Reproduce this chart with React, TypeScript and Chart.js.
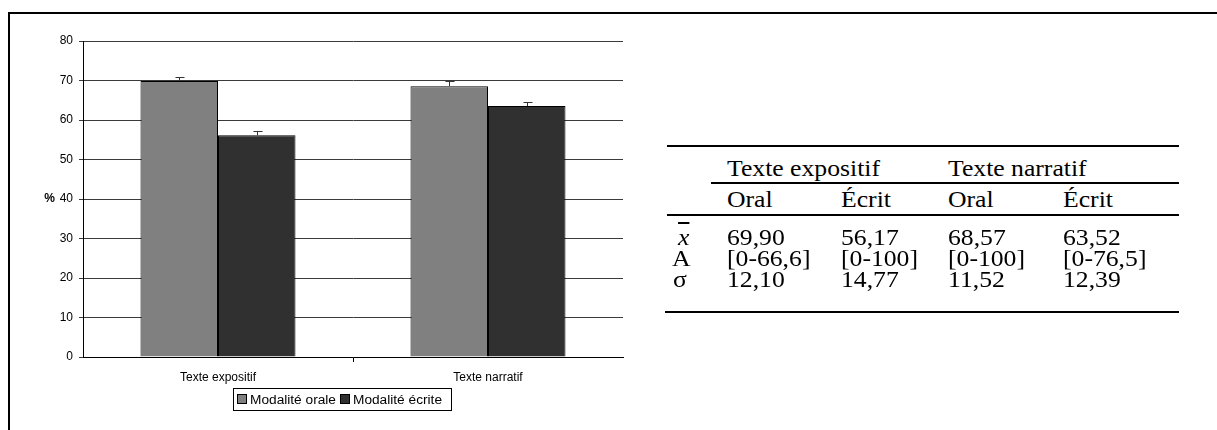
import React, { useEffect, useRef } from "react";
import { Chart, registerables } from "chart.js";

Chart.register(...registerables);

const categories = ["Texte expositif", "Texte narratif"];
const seriesNames = ["Modalité orale", "Modalité écrite"];
const oralValues = [69.9, 68.57];
const ecritValues = [56.17, 63.52];
const oralErrors = [1.1, 1.3];
const ecritErrors = [1.1, 1.0];
const yMin = 0;
const yMax = 80;
const yStep = 10;
const axisTitle = "%";
const axisTitleAtValue = 40;

const tableGroups = ["Texte expositif", "Texte narratif"];
const tableSubHeaders = ["Oral", "Écrit", "Oral", "Écrit"];
const rowLabels = ["x", "A", "σ"];
const meanRow = ["69,90", "56,17", "68,57", "63,52"];
const rangeRow = ["[0-66,6]", "[0-100]", "[0-100]", "[0-76,5]"];
const sigmaRow = ["12,10", "14,77", "11,52", "12,39"];

const oralColor = "#808080";
const ecritColor = "#303030";
const sansFont = "'Liberation Sans', Arial, sans-serif";
const serifFont = "'Liberation Serif', 'Times New Roman', serif";

const errorBarPlugin = {
  id: "errorBars",
  afterDatasetsDraw(chart: any) {
    const ctx = chart.ctx;
    const y = chart.scales.y;
    chart.data.datasets.forEach((ds: any, di: number) => {
      const meta = chart.getDatasetMeta(di);
      meta.data.forEach((bar: any, i: number) => {
        const v = ds.data[i];
        const e = ds.errors[i];
        const top = Math.round(y.getPixelForValue(v + e)) + 0.5;
        const x = Math.round(bar.x) + 0.5;
        ctx.save();
        ctx.strokeStyle = "#333";
        ctx.lineWidth = 1;
        ctx.beginPath();
        ctx.moveTo(x, bar.y);
        ctx.lineTo(x, top);
        ctx.moveTo(x - 4, top);
        ctx.lineTo(x + 5, top);
        ctx.stroke();
        ctx.restore();
      });
    });
  },
};

const percentPlugin = {
  id: "percentLabel",
  afterDraw(chart: any) {
    const ctx = chart.ctx;
    const y = chart.scales.y;
    ctx.save();
    ctx.font = `bold 12px ${sansFont}`;
    ctx.fillStyle = "#000";
    ctx.textAlign = "right";
    ctx.textBaseline = "middle";
    ctx.fillText(axisTitle, 55, y.getPixelForValue(axisTitleAtValue));
    ctx.restore();
  },
};

function BarChart() {
  const ref = useRef<HTMLCanvasElement | null>(null);
  useEffect(() => {
    if (!ref.current) return;
    const chart = new Chart(ref.current, {
      type: "bar",
      data: {
        labels: categories,
        datasets: [
          {
            label: seriesNames[0],
            data: oralValues,
            errors: oralErrors,
            backgroundColor: oralColor,
            borderColor: "#000",
            borderWidth: 1,
            categoryPercentage: 0.574,
            barPercentage: 1,
          } as any,
          {
            label: seriesNames[1],
            data: ecritValues,
            errors: ecritErrors,
            backgroundColor: ecritColor,
            borderColor: "#000",
            borderWidth: 1,
            categoryPercentage: 0.574,
            barPercentage: 1,
          } as any,
        ],
      },
      options: {
        responsive: false,
        animation: false,
        layout: { padding: { left: 0, top: 41, right: 57, bottom: 0 } },
        plugins: {
          legend: { display: false },
          tooltip: { enabled: false },
          title: { display: false },
        },
        scales: {
          x: {
            grid: {
              display: true,
              drawOnChartArea: false,
              drawTicks: true,
              tickLength: 5,
              color: (ctx: any) => (ctx.index === 1 ? "#000" : "rgba(0,0,0,0)"),
              offset: true,
            },
            border: { display: true, color: "#000", width: 1 },
            ticks: {
              color: "#000",
              font: { family: sansFont, size: 12 },
              padding: 8,
            },
            afterFit: (scale: any) => {
              scale.height = 73;
            },
          },
          y: {
            min: yMin,
            max: yMax,
            ticks: {
              stepSize: yStep,
              color: "#000",
              font: { family: sansFont, size: 12 },
              padding: 6,
            },
            grid: {
              color: "#3a3a3a",
              lineWidth: 1,
              drawTicks: true,
              tickLength: 4,
            },
            border: { display: true, color: "#000", width: 1 },
            afterFit: (scale: any) => {
              scale.width = 83;
            },
          },
        },
      },
      plugins: [errorBarPlugin, percentPlugin],
    });
    return () => chart.destroy();
  }, []);
  return (
    <canvas
      ref={ref}
      width={680}
      height={430}
      style={{ position: "absolute", left: 0, top: 0, width: 680, height: 430 }}
    />
  );
}

function Legend() {
  const sq = (c: string) => ({
    display: "inline-block",
    width: 8,
    height: 8,
    background: c,
    border: "1px solid #000",
    marginRight: 3,
  });
  return (
    <div
      style={{
        position: "absolute",
        left: 233,
        top: 388,
        width: 214,
        height: 21,
        border: "1px solid #000",
        fontFamily: sansFont,
        fontSize: 13.7,
        lineHeight: "21px",
        color: "#000",
        whiteSpace: "nowrap",
        paddingLeft: 3,
        boxSizing: "content-box",
      }}
    >
      <span style={sq(oralColor)} />
      <span style={{ marginRight: 4 }}>{seriesNames[0]}</span>
      <span style={sq(ecritColor)} />
      <span>{seriesNames[1]}</span>
    </div>
  );
}

const colX = [727, 841, 948, 1063];
const rowBaselines = [176, 207, 245, 266, 287];
const fontSize = 24;
const stretchX = 1.07;
const baseOffset = fontSize * 0.8375;

function Cell({ x, baseline, children, style }: any) {
  return (
    <div
      style={{
        position: "absolute",
        left: x,
        top: baseline - baseOffset,
        fontFamily: serifFont,
        fontSize,
        lineHeight: `${fontSize}px`,
        whiteSpace: "nowrap",
        color: "#000",
        transform: `scaleX(${stretchX})`,
        transformOrigin: "left center",
        ...style,
      }}
    >
      {children}
    </div>
  );
}

function Rule({ x1, x2, y, w }: any) {
  return (
    <div
      style={{
        position: "absolute",
        left: x1,
        top: y - w / 2,
        width: x2 - x1,
        height: w,
        background: "#000",
      }}
    />
  );
}

function StatsTable() {
  const rows = [meanRow, rangeRow, sigmaRow];
  return (
    <>
      <Rule x1={667} x2={1179} y={145.7} w={2} />
      <Cell x={colX[0]} baseline={rowBaselines[0]}>{tableGroups[0]}</Cell>
      <Cell x={colX[2]} baseline={rowBaselines[0]}>{tableGroups[1]}</Cell>
      <Rule x1={711} x2={1179} y={182.5} w={2} />
      {tableSubHeaders.map((h, i) => (
        <Cell key={"h" + i} x={colX[i]} baseline={rowBaselines[1]}>{h}</Cell>
      ))}
      <Rule x1={667} x2={1179} y={214.5} w={2} />
      <Cell x={678} baseline={rowBaselines[2]} style={{ fontStyle: "italic", textDecoration: "overline" }}>
        {rowLabels[0]}
      </Cell>
      <Cell x={672} baseline={rowBaselines[3]}>{rowLabels[1]}</Cell>
      <Cell x={673} baseline={rowBaselines[4]}>{rowLabels[2]}</Cell>
      {rows.map((r, ri) =>
        r.map((v, ci) => (
          <Cell key={ri + "-" + ci} x={colX[ci]} baseline={rowBaselines[ri + 2]}>{v}</Cell>
        ))
      )}
      <Rule x1={665} x2={1179} y={312} w={2} />
    </>
  );
}

export default function App() {
  return (
    <div>
      <div
        style={{
          position: "absolute",
          left: 8,
          top: 12,
          right: 0,
          bottom: 0,
          borderTop: "2px solid #000",
          borderLeft: "2px solid #000",
        }}
      />
      <BarChart />
      <Legend />
      <StatsTable />
    </div>
  );
}
